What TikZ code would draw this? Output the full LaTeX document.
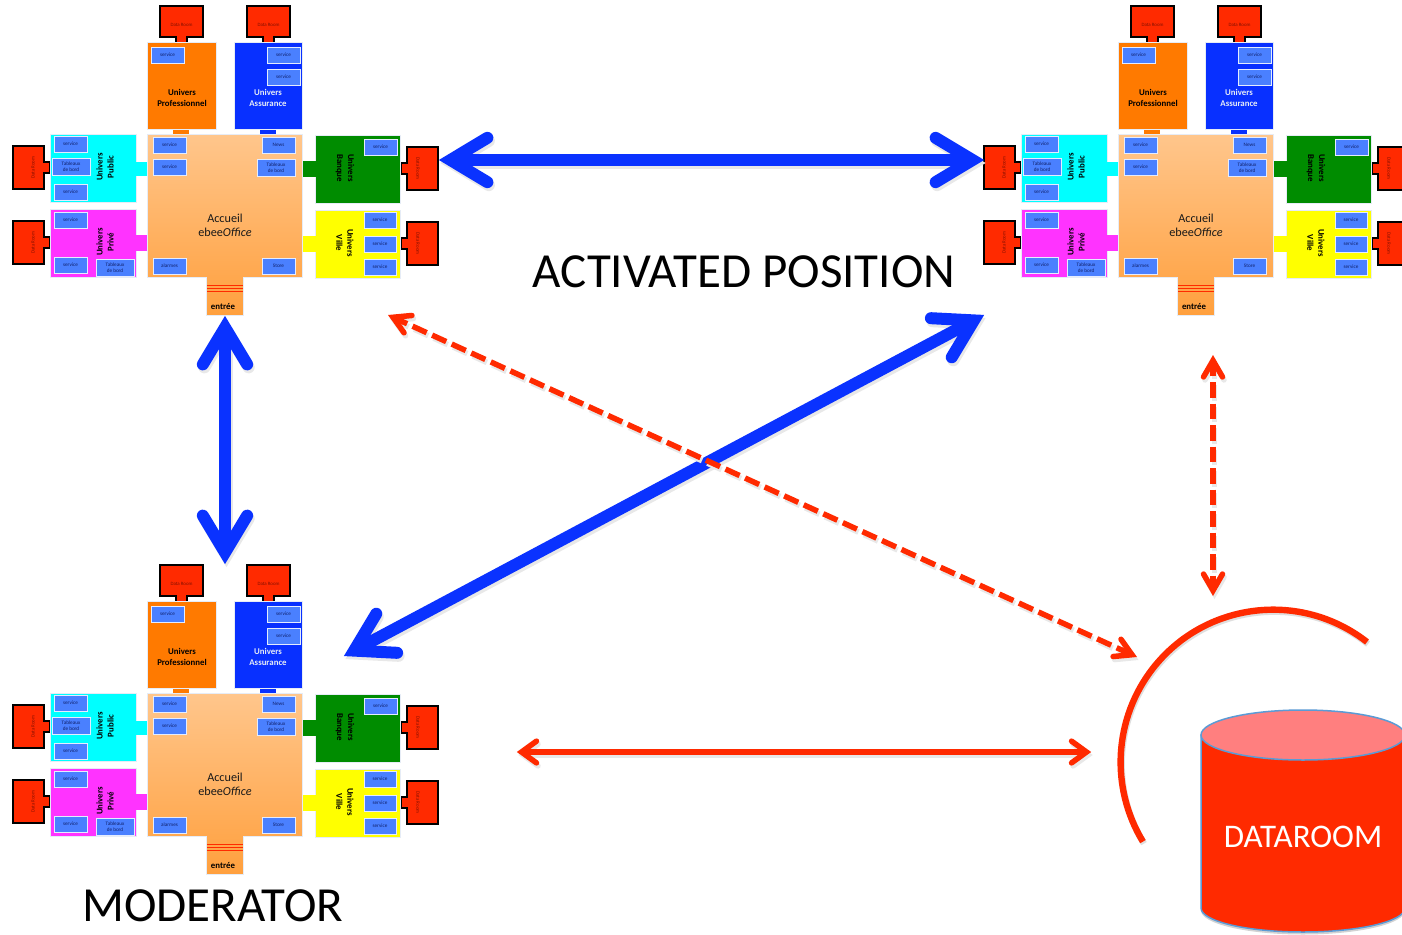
\documentclass[tikz,border=0pt]{standalone}
\usepackage{fontspec}
\setmainfont{Carlito}
\usetikzlibrary{calc}
\definecolor{drred}{HTML}{FF2A00}
\definecolor{svcblue}{HTML}{4A80FF}
\definecolor{edgepale}{HTML}{E6ECF6}
\definecolor{arrowblue}{HTML}{0A32FF}
\definecolor{cylline}{HTML}{5B9BD5}
\definecolor{drtext}{HTML}{801000}
\definecolor{svctext}{HTML}{10206A}
\tikzset{
  x=1pt,y=-1pt,
  svc/.style={draw=white!85!svcblue,line width=.9pt,fill=svcblue,inner sep=0pt,align=center,text=svctext,font=\fontsize{5.2}{6.2}\selectfont},
  dr/.style={draw=black,line width=1.6pt,fill=drred,line join=miter},
  drtxt/.style={inner sep=0pt,text=drtext,font=\fontsize{4.9}{5}\selectfont},
  room/.style={draw=edgepale,line width=1pt},
  roomtxt/.style={inner sep=0pt,align=center,font=\bfseries\fontsize{8.8}{11}\selectfont},
  bluearrow/.style={draw=arrowblue,line width=12pt,line join=miter,miter limit=10},
  redsolid/.style={draw=drred,line width=5.5pt,line join=miter,miter limit=10},
  arrowshadow/.style={draw=gray!18,transform canvas={shift={(1.5pt,-3pt)}}},
  bigtxt/.style={inner sep=0pt,font=\fontsize{49}{52}\selectfont},
}
\newcommand{\svcbox}[6]{\node[svc,minimum width=#4-#2,minimum height=#5-#3] (#1) at ({(#2+#4)/2},{(#3+#5)/2}) {#6};}
\newcommand{\dblarrowraw}[8]{%
 \draw[#3,#8,#7] (#1i) -- (#2i);
 \draw[#3,#8,line cap=round] ($(#1i)!#5pt!#6:(#2i)$) -- (#1i) -- ($(#1i)!#5pt!-#6:(#2i)$);
 \draw[#3,#8,line cap=round] ($(#2i)!#5pt!#6:(#1i)$) -- (#2i) -- ($(#2i)!#5pt!-#6:(#1i)$);}
\newcommand{\dblarrow}[7]{%
 \coordinate (#1i) at ($(#1)!#4pt!(#2)$);
 \coordinate (#2i) at ($(#2)!#4pt!(#1)$);
 \dblarrowraw{#1}{#2}{#3}{#4}{#5}{#6}{#7}{arrowshadow}
 \dblarrowraw{#1}{#2}{#3}{#4}{#5}{#6}{#7}{}}
\newcommand{\unit}[3]{%
\begin{scope}[shift={(#2,#3)}]
 \draw[dr] (160,6)--(203,6)--(203,37)--(187,37)--(187,43)--(176,43)--(176,37)--(160,37)--cycle;
 \node[drtxt] (#1d1) at (181.5,25) {Data Room};
 \draw[dr] (247,6)--(290,6)--(290,37)--(274,37)--(274,43)--(263,43)--(263,37)--(247,37)--cycle;
 \node[drtxt] (#1d2) at (268.5,25) {Data Room};
 \draw[dr] (13,146)--(44,146)--(44,162)--(50,162)--(50,173)--(44,173)--(44,189)--(13,189)--cycle;
 \node[drtxt,rotate=90] (#1d3) at (33,167.5) {Data Room};
 \draw[dr] (13,221)--(44,221)--(44,237)--(50,237)--(50,248)--(44,248)--(44,264)--(13,264)--cycle;
 \node[drtxt,rotate=90] (#1d4) at (33,242.5) {Data Room};
 \draw[dr] (438,147)--(407,147)--(407,163)--(401,163)--(401,174)--(407,174)--(407,190)--(438,190)--cycle;
 \node[drtxt,rotate=-90] (#1d5) at (418,168.5) {Data Room};
 \draw[dr] (438,222)--(407,222)--(407,238)--(401,238)--(401,249)--(407,249)--(407,265)--(438,265)--cycle;
 \node[drtxt,rotate=-90] (#1d6) at (418,243.5) {Data Room};
 % orange
 \fill[fill={rgb,255:red,255;green,122;blue,0}] (173,128) rectangle (189,135);
 \draw[room,fill={rgb,255:red,255;green,122;blue,0}] (147.5,42.5) rectangle (216,129);
 \node[roomtxt] (#1ot) at (182,98) {Univers\\Professionnel};
 \svcbox{#1o1}{151}{47}{184}{63}{service}
 % blue
 \fill[fill={rgb,255:red,8;green,48;blue,255}] (260,128) rectangle (276,135);
 \draw[room,fill={rgb,255:red,8;green,48;blue,255}] (234,42.5) rectangle (302,129);
 \node[roomtxt,text=edgepale] (#1at) at (268,98) {Univers\\Assurance};
 \svcbox{#1a1}{267}{47}{300}{63}{service}
 \svcbox{#1a2}{267}{69}{300}{85}{service}
 % stems of the side rooms
 \fill[fill={rgb,255:red,0;green,255;blue,255}] (135,162) rectangle (148,176);
 \fill[fill={rgb,255:red,255;green,51;blue,255}] (135,235) rectangle (148,251);
 \fill[fill={rgb,255:red,0;green,140;blue,0}] (302,161) rectangle (316,177);
 \fill[fill={rgb,255:red,255;green,255;blue,0}] (302,236) rectangle (316,252);
 % main
 \shade[top color={rgb,255:red,255;green,198;blue,140},bottom color={rgb,255:red,255;green,160;blue,62},draw=edgepale,line width=1pt]
   (147.5,134)--(302,134)--(302,277)--(243,277)--(243,315)--(206.5,315)--(206.5,277)--(147.5,277)--cycle;
 \draw[drred,line width=.8pt] (207,285)--(242.5,285) (207,288)--(242.5,288) (207,291)--(242.5,291);
 \node[inner sep=0pt,align=center,text=black!90!white,font=\fontsize{12.2}{14}\selectfont] (#1acc) at (225,225.5) {Accueil\\ebee{\itshape Office}};
 \node[inner sep=0pt,font=\bfseries\fontsize{8.8}{10}\selectfont] (#1ent) at (223,306.5) {entrée};
 \svcbox{#1m1}{153}{137}{186}{153}{service}
 \svcbox{#1m2}{153}{159}{186}{175}{service}
 \svcbox{#1m3}{153}{258}{186}{274}{alarmes}
 \svcbox{#1m4}{262}{137}{295}{153}{News}
 \svcbox{#1m5}{257}{159}{295}{176}{Tableaux\\de bord}
 \svcbox{#1m6}{262}{258}{295}{274}{Store}
 % cyan
 \draw[room,fill={rgb,255:red,0;green,255;blue,255}] (50,134)--(136,134)--(136,202)--(50,202)--cycle;
 \fill[fill={rgb,255:red,0;green,255;blue,255}] (134,162) rectangle (138,176);
 \node[roomtxt,rotate=90] (#1ct) at (105,167) {Univers\\Public};
 \svcbox{#1c1}{54}{136}{87}{152}{service}
 \svcbox{#1c2}{52}{158}{90}{175}{Tableaux\\de bord}
 \svcbox{#1c3}{54}{184}{87}{200}{service}
 % magenta
 \draw[room,fill={rgb,255:red,255;green,51;blue,255}] (50,209)--(136,209)--(136,277)--(50,277)--cycle;
 \fill[fill={rgb,255:red,255;green,51;blue,255}] (134,235) rectangle (138,251);
 \node[roomtxt,rotate=90] (#1pt) at (105,242) {Univers\\Privé};
 \svcbox{#1p1}{54}{212}{87}{228}{service}
 \svcbox{#1p2}{54}{257}{87}{273}{service}
 \svcbox{#1p3}{96}{259}{134}{276}{Tableaux\\de bord}
 % green
 \draw[room,fill={rgb,255:red,0;green,140;blue,0}] (315,135)--(400.5,135)--(400.5,203)--(315,203)--cycle;
 \fill[fill={rgb,255:red,0;green,140;blue,0}] (313,161) rectangle (317,177);
 \node[roomtxt,rotate=-90] (#1bt) at (345,168) {Univers\\Banque};
 \svcbox{#1g1}{364}{139}{397}{155}{service}
 % yellow
 \draw[room,fill={rgb,255:red,255;green,255;blue,0}] (315,210)--(400.5,210)--(400.5,278)--(315,278)--cycle;
 \fill[fill={rgb,255:red,255;green,255;blue,0}] (313,236) rectangle (317,252);
 \node[roomtxt,rotate=-90] (#1vt) at (345,243) {Univers\\Ville};
 \svcbox{#1y1}{364}{212}{396}{228}{service}
 \svcbox{#1y2}{364}{236}{396}{252}{service}
 \svcbox{#1y3}{364}{259}{396}{275}{service}
\end{scope}}
\begin{document}
\begin{tikzpicture}
\useasboundingbox (0,0) rectangle (1402,934);
\clip (0,0) rectangle (1402,934);
\fill[white] (0,0) rectangle (1402,934);
\unit{a}{0}{0}
\unit{b}{971}{0}
\unit{c}{0}{559}
\coordinate (h1) at (439,160);
\coordinate (h2) at (984,160);
\coordinate (v1) at (225,316);
\coordinate (v2) at (225,564);
\coordinate (g1) at (984,315);
\coordinate (g2) at (344,656);
\coordinate (r1) at (388,315);
\coordinate (r2) at (1137,657);
\coordinate (r3) at (1213,355);
\coordinate (r4) at (1213,596);
\coordinate (r5) at (516,752);
\coordinate (r6) at (1092,752);
\dblarrow{h1}{h2}{bluearrow}{11.5}{43}{31}{}
\dblarrow{v1}{v2}{bluearrow}{11.5}{43}{31}{}
\dblarrow{g1}{g2}{bluearrow}{11.5}{43}{31}{}
\dblarrow{r1}{r2}{redsolid}{5.5}{19}{30}{dash pattern=on 15.5pt off 6pt}
\dblarrow{r3}{r4}{redsolid}{5.5}{19}{30}{dash pattern=on 15.5pt off 6pt}
\dblarrow{r5}{r6}{redsolid}{5.5}{18.5}{36}{}
% arc round the data room
\draw[gray!25,line width=6.4pt,transform canvas={shift={(1pt,-2pt)}}] (1367,642) arc[start angle=-52,end angle=-211.4,radius=152.5];
\draw[drred,line width=6.4pt] (1367,642) arc[start angle=-52,end angle=-211.4,radius=152.5];
% cylinder
\fill[gray!35,transform canvas={shift={(0pt,-2.5pt)}}] (1201,908) arc[start angle=180,end angle=0,x radius=102,y radius=24] -- cycle;
\draw[cylline,line width=1.5pt,fill=drred] (1201,735) -- (1201,908) arc[start angle=180,end angle=0,x radius=102,y radius=24] -- (1405,735) -- cycle;
\draw[cylline,line width=1.5pt,fill={rgb,255:red,255;green,127;blue,127}] (1303,735) ellipse[x radius=102,y radius=25];
\node[inner sep=0pt,text=white,font=\fontsize{33}{36}\selectfont] (dataroom) at (1303,837) {DATAROOM};
\node[bigtxt] (activated) at (744,272) {ACTIVATED POSITION};
\node[bigtxt] (moderator) at (213,906) {MODERATOR};
\end{tikzpicture}
\end{document}
